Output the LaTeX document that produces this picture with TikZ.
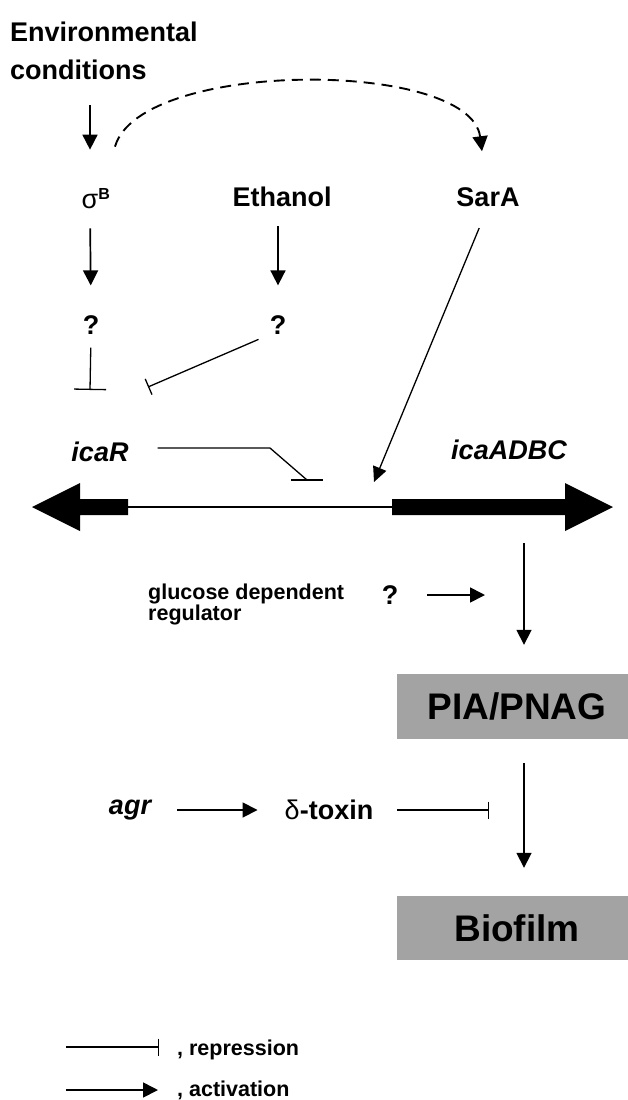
\documentclass[tikz,border=0pt]{standalone}
\usepackage{fontspec}
\setmainfont{Liberation Sans}
\usetikzlibrary{arrows.meta, positioning}
\usepackage{xcolor}
\definecolor{boxgray}{RGB}{163,163,163}
\newcommand\tightlines{\lineskiplimit=-30pt\relax}
\tikzset{labelnode/.style={font=\fontsize{27pt}{38pt}\selectfont\bfseries, inner sep=0pt},
genenode/.style={inner sep=0pt, font=\fontsize{27pt}{38pt}\selectfont\bfseries\itshape},
productnode/.style={fill=boxgray, minimum width=231pt, inner sep=0pt, font=\fontsize{37pt}{40pt}\selectfont\bfseries},
smalltextnode/.style={inner sep=0pt, font=\fontsize{21.5pt}{20.5pt}\selectfont\bfseries\tightlines},
activation/.style={-{Triangle[length=15pt, width=15pt]}, line width=1.7pt},
thinactivation/.style={-{Triangle[length=15pt, width=14pt]}, line width=1.3pt},
repression/.style={-{Bar[width=17pt]}, line width=1.3pt},
bigrepression/.style={-{Bar[width=32pt]}, line width=1.3pt}}

\begin{document}
\begin{tikzpicture}[line cap=butt]
                \useasboundingbox (0pt, 0pt) rectangle (628pt, -1100pt);

                % Regulators
                \node[labelnode, anchor=north west, align=left] (env) at (10pt, -22pt) {Environmental\\conditions};
                \node[labelnode] (sigma) at (90pt, -199pt) {{\mdseries σ}\rlap{\raisebox{9pt}{\fontsize{16pt}{16pt}\selectfont B}}};
                \node[labelnode] (ethanol) at (282pt, -197pt) {Ethanol};
                \node[labelnode] (sara) at (488pt, -197pt) {SarA};
                \node[labelnode] (qsigma) at (91pt, -325pt) {?};
                \node[labelnode] (qethanol) at (278pt, -325pt) {?};
                \coordinate (sigmabar) at (90pt, -390pt);
                \coordinate (ethanolbar) at (148pt, -387pt);
                \coordinate (saratip) at (374pt, -482pt);

                \draw[activation, shorten <=25pt, shorten >=39pt] (env.south -| sigma.north) -- (sigma.north);
                \draw[activation, line width=1.9pt, dash pattern=on 11pt off 7pt] ([xshift=25pt, yshift=42pt]sigma.north) .. controls (140pt, -59pt) and (470pt, -59pt) .. ([xshift=-6pt, yshift=36pt]sara.north);
                \draw[activation, shorten <=19pt, shorten >=30pt] (sigma.south) -- (qsigma.north);
                \draw[activation, shorten <=19pt, shorten >=30pt] (ethanol.south -| qethanol.north) -- (qethanol.north);
                \draw[bigrepression, shorten <=13pt] (qsigma.south) -- (sigmabar);
                \draw[repression, shorten <=12pt] (qethanol.south west) -- (ethanolbar);
                \draw[thinactivation, shorten <=23pt] (sara.south) -- (saratip);

                % Operon
                \node[genenode] (icaR) at (100pt, -452pt) {icaR};
                \node[genenode] (icaADBC) at (509pt, -450pt) {icaADBC};
                \coordinate (icaRstart) at (128pt, -507pt);
                \coordinate (icaAstart) at (392pt, -507pt);
                \coordinate (icaRbend) at (270pt, -448pt);
                \coordinate (icaRbar) at (307pt, -480pt);
                \coordinate (operon) at (524pt, -531pt);

                \fill (32pt, -507pt) -- (80pt, -483pt) -- (80pt, -499pt) -- (128pt, -499pt) -- (128pt, -515pt) -- (80pt, -515pt) -- (80pt, -531pt) -- cycle;
                \fill (392pt, -499pt) -- (565pt, -499pt) -- (565pt, -483pt) -- (613pt, -507pt) -- (565pt, -531pt) -- (565pt, -515pt) -- (392pt, -515pt) -- cycle;
                \draw[line width=1.3pt] (icaRstart) -- (icaAstart);
                \draw[line width=1.3pt] ([xshift=29pt, yshift=4pt]icaR.east) -- (icaRbend) -- (icaRbar);
                \draw[line width=1.3pt] ([xshift=-16pt]icaRbar) -- ([xshift=16pt]icaRbar);

                % Products
                \node[productnode, minimum height=65pt] (pia) at (512.5pt, -706.5pt) {\hspace*{9pt}PIA/PNAG};
                \node[productnode, minimum height=64pt] (biofilm) at (512.5pt, -928pt) {\hspace*{9pt}Biofilm};
                \node[smalltextnode, anchor=north west, align=left] (glucose) at (148pt, -584pt) {glucose dependent\\regulator};
                \node[labelnode] (qglucose) at (390pt, -595pt) {?};
                \node[genenode] (agr) at (130pt, -810pt) {agr};
                \node[labelnode] (dtoxin) at (329pt, -810pt) {{\mdseries δ}-toxin};

                \draw[activation, shorten <=12pt, shorten >=29pt] (operon) -- (operon |- pia.north);
                \draw[activation, shorten <=29pt, shorten >=39pt] (qglucose.east) -- (operon |- qglucose);
                \draw[activation, shorten <=24pt, shorten >=28pt] (operon |- pia.south) -- (operon |- biofilm.north);
                \draw[activation, shorten <=26pt, shorten >=27pt] (agr.east) -- (dtoxin.west);
                \draw[repression, shorten <=24pt, shorten >=35pt] (dtoxin.east) -- (operon |- dtoxin);

                % Caption
                \node[smalltextnode, anchor=west] (legendrep) at (177pt, -1050pt) {, repression};
                \node[smalltextnode, anchor=west] (legendact) at (177pt, -1090pt) {, activation};
                \draw[repression] ([xshift=-111pt, yshift=3pt]legendrep.west) -- ([xshift=-18pt, yshift=3pt]legendrep.west);
                \draw[activation] ([xshift=-111pt]legendact.west) -- ([xshift=-19pt]legendact.west);
\end{tikzpicture}
\end{document}
